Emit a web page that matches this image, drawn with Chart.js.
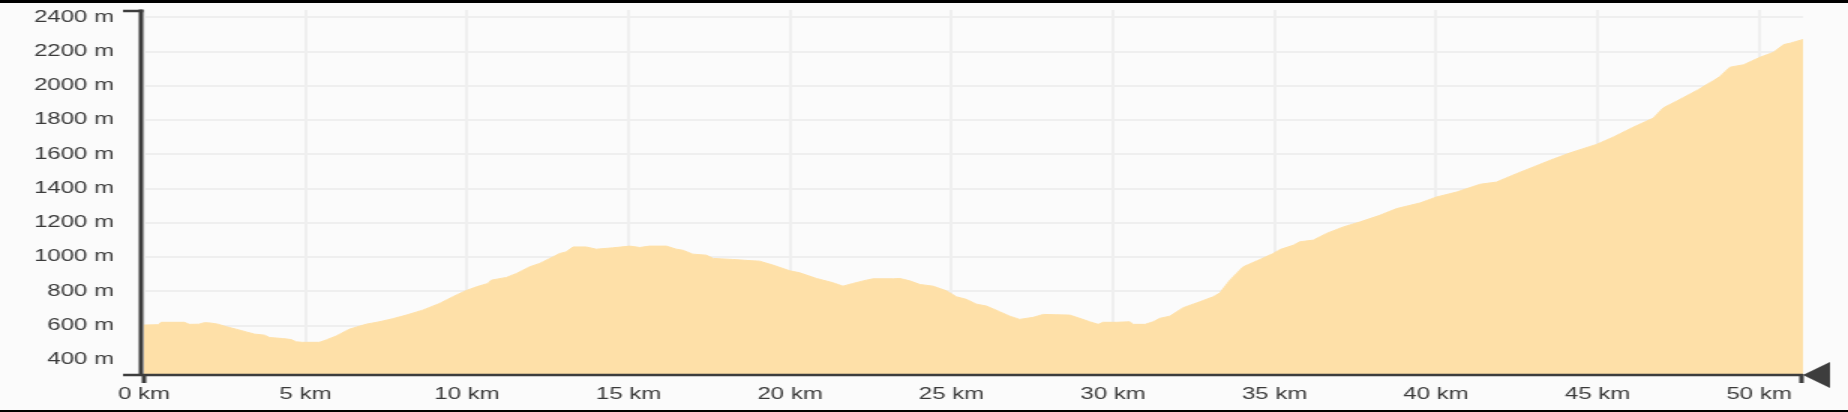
<!DOCTYPE html>
<html>
<head>
<meta charset="utf-8">
<script src="https://cdn.jsdelivr.net/npm/chart.js@4/dist/chart.umd.min.js"></script>
<style>
  html, body { margin: 0; padding: 0; background: #fbfbfb; overflow: hidden; }
  #wrap { position: absolute; left: 0; top: 0; width: 1232px; height: 412px; transform: scaleX(1.5); transform-origin: 0 0; }
  .bar { position: absolute; left: 0; width: 1848px; background: #000; }
</style>
</head>
<body>
<div id="wrap"><canvas id="profile"></canvas></div>
<div class="bar" style="top:0;height:3px"></div>
<div class="bar" style="top:410px;height:2px"></div>
<script>
// distance along the route (km)
const distances = [0, 0.45, 0.53, 1.25, 1.4, 1.7, 1.87, 2.05, 2.29, 2.55, 2.85, 3.16, 3.42, 3.73, 3.89, 4.3, 4.56, 4.71, 4.9, 5.43,
  5.64, 5.95, 6.36, 6.88, 7.29, 7.7, 8.12, 8.63, 9.15, 9.56, 9.93, 10.29, 10.65, 10.75, 11.22, 11.53, 11.94, 12.25, 12.66, 12.87,
  13.07, 13.28, 13.69, 14.0, 14.52, 15.04, 15.35, 15.65, 16.17, 16.48, 16.68, 16.99, 17.41, 17.62, 18.23, 18.85, 19.06, 19.47, 19.99, 20.3,
  20.82, 21.33, 21.64, 21.95, 22.36, 22.57, 23.19, 23.4, 23.71, 24.02, 24.43, 24.84, 25.15, 25.46, 25.77, 26.08, 26.49, 26.8, 27.11, 27.53,
  27.84, 28.66, 28.97, 29.28, 29.54, 29.69, 30.11, 30.52, 30.62, 30.99, 31.24, 31.45, 31.76, 32.17, 32.69, 33.1, 33.31, 33.62, 34.03, 34.55,
  34.96, 35.17, 35.58, 35.78, 36.2, 36.61, 37.13, 37.64, 38.26, 38.78, 39.5, 40.02, 40.64, 41.36, 41.87, 42.49, 43.01, 43.53, 44.14, 44.97,
  45.49, 46.11, 46.73, 47.04, 47.45, 48.07, 48.59, 48.79, 49.1, 49.52, 50.03, 50.45, 50.76, 50.96, 51.36];

// elevation (m)
const elevations = [603, 605, 619, 619, 607, 608, 617, 615, 608, 593, 579, 563, 550, 544, 530, 524, 518, 505, 502, 502,
  516, 539, 579, 608, 622, 640, 661, 690, 729, 768, 801, 826, 846, 865, 881, 904, 943, 963, 1001, 1021,
  1030, 1059, 1059, 1046, 1054, 1064, 1056, 1064, 1064, 1046, 1040, 1017, 1011, 992, 986, 978, 976, 953, 920, 908,
  875, 850, 830, 846, 865, 873, 873, 875, 861, 840, 830, 803, 768, 753, 725, 714, 681, 655, 636, 648,
  665, 661, 642, 622, 607, 619, 619, 622, 607, 607, 622, 642, 655, 704, 739, 768, 791, 865, 943, 986,
  1021, 1044, 1069, 1089, 1099, 1138, 1176, 1205, 1244, 1283, 1316, 1351, 1380, 1425, 1438, 1487, 1526, 1565, 1608, 1658,
  1701, 1759, 1812, 1872, 1911, 1973, 2031, 2055, 2109, 2123, 2167, 2196, 2241, 2249, 2271];

const kmStep = 5;
const elevStep = 200;
const elevMin = 317;
const elevMax = 2443;

const points = distances.map((d, i) => ({ x: d, y: elevations[i] }));

// thick axis lines with end marks and the arrow on the right
const axesPlugin = {
  id: 'axes',
  afterDatasetsDraw(chart) {
    const { ctx, chartArea: a } = chart;
    ctx.save();
    ctx.strokeStyle = '#3d3d3d';
    ctx.fillStyle = '#3d3d3d';
    ctx.lineCap = 'butt';

    ctx.lineWidth = 3;
    ctx.beginPath();
    ctx.moveTo(a.left - 2, a.top - 0.5);
    ctx.lineTo(a.left - 2, a.bottom + 1);
    ctx.stroke();

    ctx.lineWidth = 2.5;
    ctx.beginPath();
    ctx.moveTo(82, a.top + 1);
    ctx.lineTo(a.left - 0.5, a.top + 1);
    ctx.stroke();

    ctx.beginPath();
    ctx.moveTo(82, a.bottom + 1);
    ctx.lineTo(a.right, a.bottom + 1);
    ctx.stroke();

    ctx.lineWidth = 3;
    ctx.beginPath();
    ctx.moveTo(a.left, a.bottom);
    ctx.lineTo(a.left, a.bottom + 9);
    ctx.moveTo(a.right - 1, a.bottom);
    ctx.lineTo(a.right - 1, a.bottom + 9);
    ctx.stroke();

    ctx.beginPath();
    ctx.moveTo(a.right, a.bottom + 1);
    ctx.lineTo(a.right + 18, a.bottom - 12);
    ctx.lineTo(a.right + 18, a.bottom + 14);
    ctx.closePath();
    ctx.fill();
    ctx.restore();
  }
};

new Chart(document.getElementById('profile'), {
  type: 'line',
  data: {
    datasets: [{
      data: points,
      fill: 'start',
      backgroundColor: '#fee0a8',
      borderColor: '#fee0a8',
      borderWidth: 1,
      pointRadius: 0,
      tension: 0
    }]
  },
  options: {
    responsive: true,
    maintainAspectRatio: false,
    animation: false,
    layout: { padding: { top: 10, right: 30, left: 0, bottom: 0 } },
    plugins: { legend: { display: false }, tooltip: { enabled: false } },
    scales: {
      x: {
        type: 'linear',
        min: 0,
        max: distances[distances.length - 1],
        afterFit: s => { s.height = 38; },
        border: { display: false },
        grid: { color: '#efefef', lineWidth: 2, drawTicks: false },
        ticks: {
          stepSize: kmStep,
          includeBounds: false,
          autoSkip: false,
          maxRotation: 0,
          padding: 11,
          color: '#3a3a3a',
          font: { family: 'Liberation Sans, Arial, sans-serif', size: 16 },
          callback: v => v + ' km'
        }
      },
      y: {
        min: elevMin,
        max: elevMax,
        afterFit: s => { s.width = 96; s.paddingTop = 0; s.paddingBottom = 0; },
        border: { display: false },
        grid: { color: '#efefef', lineWidth: 2, drawTicks: false },
        ticks: {
          stepSize: elevStep,
          includeBounds: false,
          padding: 20,
          color: '#3a3a3a',
          font: { family: 'Liberation Sans, Arial, sans-serif', size: 16 },
          callback: v => v + ' m'
        }
      }
    }
  },
  plugins: [axesPlugin]
});
</script>
</body>
</html>
